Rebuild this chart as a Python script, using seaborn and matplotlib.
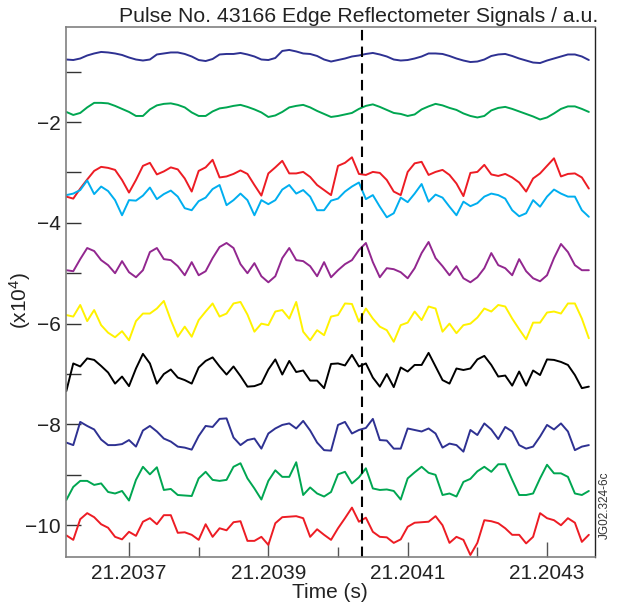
import numpy as np
import pandas as pd
import matplotlib
matplotlib.use("Agg")
import matplotlib.pyplot as plt
from matplotlib.ticker import FixedLocator, FixedFormatter
import seaborn as sns

# ---- data (values in units of 1e4, time in s) ----
time_s = np.round(21.20361 + np.arange(76) * 1e-5, 6)

navy_top = [-0.76, -0.77, -0.74, -0.68, -0.64, -0.61, -0.62, -0.64, -0.67, -0.72, -0.76, -0.78, -0.76, -0.66, -0.64, -0.62, -0.62, -0.65, -0.70, -0.77,
            -0.79, -0.75, -0.66, -0.65, -0.65, -0.63, -0.66, -0.70, -0.76, -0.77, -0.73, -0.59, -0.57, -0.60, -0.64, -0.65, -0.69, -0.76, -0.80,
            -0.77, -0.74, -0.70, -0.68, -0.65, -0.63, -0.66, -0.70, -0.76, -0.78, -0.77, -0.74, -0.70, -0.64, -0.64, -0.65, -0.69, -0.74, -0.78,
            -0.81, -0.80, -0.76, -0.69, -0.66, -0.65, -0.69, -0.74, -0.78, -0.82, -0.83, -0.78, -0.74, -0.70, -0.66, -0.66, -0.70, -0.77]
green_top = [-1.80, -1.86, -1.82, -1.71, -1.62, -1.62, -1.63, -1.68, -1.74, -1.80, -1.88, -1.88, -1.75, -1.67, -1.64, -1.63, -1.66, -1.71, -1.81, -1.88,
             -1.88, -1.79, -1.73, -1.71, -1.68, -1.66, -1.70, -1.75, -1.81, -1.90, -1.87, -1.80, -1.71, -1.68, -1.66, -1.71, -1.78, -1.84, -1.90,
             -1.88, -1.85, -1.82, -1.74, -1.68, -1.65, -1.70, -1.76, -1.82, -1.84, -1.88, -1.85, -1.75, -1.69, -1.64, -1.67, -1.72, -1.76, -1.83,
             -1.88, -1.91, -1.88, -1.77, -1.72, -1.70, -1.74, -1.79, -1.84, -1.89, -1.95, -1.91, -1.83, -1.74, -1.69, -1.69, -1.74, -1.80]
red_top = [-3.48, -3.52, -3.32, -3.14, -2.97, -2.89, -2.91, -2.95, -3.15, -3.40, -3.15, -2.87, -2.81, -3.04, -2.98, -2.90, -2.94, -3.12, -3.38, -2.97,
           -2.90, -2.75, -3.10, -3.08, -3.03, -2.96, -3.03, -3.25, -3.46, -3.02, -2.90, -2.77, -3.02, -3.02, -2.99, -3.09, -3.25, -3.35, -3.45,
           -2.87, -2.81, -2.70, -3.03, -3.05, -2.99, -3.01, -3.15, -3.38, -3.45, -2.99, -2.82, -2.79, -3.05, -2.99, -2.95, -3.05, -3.22, -3.47,
           -3.01, -2.99, -2.85, -3.04, -3.07, -3.03, -3.10, -3.20, -3.38, -3.12, -3.02, -2.87, -2.72, -3.08, -3.03, -3.02, -3.10, -3.32]
cyan = [-3.45, -3.42, -3.35, -3.16, -3.43, -3.28, -3.37, -3.55, -3.85, -3.55, -3.56, -3.46, -3.30, -3.53, -3.43, -3.36, -3.48, -3.71, -3.75, -3.57,
        -3.50, -3.33, -3.25, -3.65, -3.55, -3.42, -3.55, -3.85, -3.55, -3.63, -3.55, -3.34, -3.25, -3.42, -3.35, -3.48, -3.75, -3.75, -3.56,
        -3.52, -3.38, -3.28, -3.20, -3.53, -3.45, -3.68, -3.89, -3.81, -3.50, -3.59, -3.42, -3.23, -3.58, -3.44, -3.50, -3.68, -3.85, -3.58,
        -3.67, -3.61, -3.48, -3.42, -3.45, -3.52, -3.75, -3.87, -3.81, -3.55, -3.68, -3.48, -3.34, -3.42, -3.48, -3.48, -3.75, -3.88]
purple = [-4.94, -4.96, -4.72, -4.50, -4.56, -4.74, -4.84, -5.00, -4.76, -4.98, -5.08, -4.94, -4.58, -4.50, -4.72, -4.74, -4.86, -5.04, -4.78, -5.04,
          -4.96, -4.70, -4.48, -4.40, -4.50, -4.82, -5.00, -4.80, -5.06, -5.18, -5.06, -4.70, -4.50, -4.74, -4.76, -4.86, -5.06, -4.78, -5.08,
          -4.94, -4.82, -4.74, -4.54, -4.40, -4.78, -5.08, -4.90, -4.92, -4.98, -5.10, -4.90, -4.60, -4.38, -4.70, -4.86, -5.04, -4.86, -5.10,
          -5.18, -5.08, -4.90, -4.60, -4.84, -4.90, -5.04, -4.72, -4.96, -5.10, -5.16, -5.04, -4.70, -4.42, -4.58, -4.84, -4.94, -4.94]
yellow = [-5.83, -5.86, -5.63, -5.95, -5.73, -6.03, -6.18, -6.27, -6.15, -6.33, -5.95, -5.80, -5.80, -5.70, -5.55, -5.93, -6.26, -6.06, -6.26, -5.93,
          -5.76, -5.60, -5.86, -5.80, -5.60, -5.57, -5.82, -6.16, -6.00, -6.03, -5.76, -5.73, -5.90, -5.57, -6.16, -6.33, -6.13, -6.23, -5.86,
          -5.83, -5.60, -5.61, -5.96, -5.70, -5.90, -6.06, -6.13, -6.36, -6.03, -5.98, -5.76, -5.93, -5.66, -5.70, -6.16, -6.00, -6.19, -6.03,
          -6.00, -5.88, -5.70, -5.76, -5.63, -5.66, -5.90, -6.11, -6.31, -5.98, -5.98, -5.78, -5.76, -5.80, -5.60, -5.60, -5.90, -6.29]
black = [-7.34, -6.79, -6.85, -6.69, -6.72, -6.84, -6.97, -7.19, -7.05, -7.24, -6.89, -6.60, -6.79, -7.19, -7.00, -6.91, -7.07, -7.12, -7.19, -6.87,
         -6.74, -6.67, -6.85, -7.01, -6.85, -7.04, -7.25, -7.24, -7.19, -6.91, -6.71, -7.01, -6.74, -6.96, -6.93, -7.13, -7.13, -7.28, -6.80,
         -6.79, -6.83, -6.62, -6.85, -6.79, -7.07, -7.25, -7.00, -7.26, -6.87, -6.95, -6.82, -6.82, -6.58, -6.85, -7.12, -7.19, -6.89, -6.92,
         -6.89, -6.71, -6.64, -6.82, -7.05, -7.03, -7.23, -6.95, -7.23, -6.93, -7.02, -6.71, -6.72, -6.76, -6.82, -7.02, -7.28, -7.25]
navy_low = [-8.36, -8.41, -7.95, -8.03, -8.10, -8.30, -8.41, -8.41, -8.39, -8.31, -8.44, -8.12, -8.03, -8.14, -8.28, -8.34, -8.44, -8.46, -8.50, -8.23,
            -8.03, -8.05, -7.89, -7.88, -8.26, -8.41, -8.31, -8.28, -8.48, -8.18, -8.08, -8.01, -7.98, -8.08, -7.93, -8.12, -8.36, -8.51, -8.52,
            -8.01, -7.95, -8.18, -8.11, -8.07, -7.89, -8.31, -8.32, -8.48, -8.48, -8.08, -8.11, -8.14, -8.08, -8.18, -8.46, -8.38, -8.41, -8.54,
            -8.11, -8.21, -7.98, -8.10, -8.29, -8.05, -8.14, -8.41, -8.48, -8.44, -8.24, -8.01, -8.10, -7.98, -8.14, -8.51, -8.44, -8.41]
green_low = [-9.50, -9.24, -9.12, -9.12, -9.20, -9.17, -9.34, -9.37, -9.32, -9.51, -9.10, -8.84, -8.99, -8.85, -9.30, -9.28, -9.40, -9.41, -9.42, -9.07,
             -8.94, -9.10, -9.12, -9.10, -8.84, -8.77, -9.07, -9.27, -9.49, -9.12, -8.91, -9.04, -9.04, -8.75, -9.40, -9.25, -9.37, -9.43, -9.34,
             -8.99, -8.94, -9.17, -9.05, -8.87, -9.27, -9.30, -9.29, -9.32, -9.49, -9.07, -8.95, -8.84, -8.96, -9.00, -9.40, -9.37, -9.43, -9.14,
             -9.08, -8.93, -8.84, -8.94, -8.79, -8.79, -9.10, -9.40, -9.40, -9.37, -9.07, -8.80, -8.97, -8.97, -9.04, -9.37, -9.40, -9.32]
red_low = [-10.20, -10.29, -9.88, -9.76, -9.84, -9.98, -10.05, -10.23, -10.28, -10.13, -10.21, -9.93, -9.86, -9.98, -9.80, -9.80, -10.15, -10.14, -10.19, -10.29,
           -9.98, -10.23, -10.06, -10.10, -9.94, -9.92, -10.31, -10.31, -10.23, -10.39, -9.96, -9.84, -9.83, -9.82, -9.86, -10.23, -10.08, -10.19, -10.29,
           -10.06, -9.86, -9.65, -9.93, -9.85, -10.13, -10.23, -10.24, -10.35, -10.28, -10.03, -9.95, -9.94, -9.93, -9.82, -10.00, -10.35, -10.23, -10.29,
           -10.59, -10.35, -9.90, -9.92, -9.96, -10.06, -10.19, -10.19, -10.36, -10.23, -9.76, -9.86, -9.90, -10.00, -9.86, -9.95, -10.33, -10.19]

series_names = ["navy_top", "green_top", "red_top", "cyan", "purple",
                "yellow", "black", "navy_low", "green_low", "red_low"]
series_values = [navy_top, green_top, red_top, cyan, purple,
                 yellow, black, navy_low, green_low, red_low]
series_colors = ["#2e3192", "#00a651", "#ed1c24", "#00aeef", "#92278f",
                 "#fff200", "#000000", "#2e3192", "#00a651", "#ed1c24"]

x_ticks_major = [21.2037, 21.2039, 21.2041, 21.2043]
x_tick_labels = ["21.2037", "21.2039", "21.2041", "21.2043"]
x_ticks_minor = [21.2038, 21.2040, 21.2042]
y_ticks_major = [-2, -4, -6, -8, -10]
y_tick_labels = ["\u22122", "\u22124", "\u22126", "\u22128", "\u221210"]
y_ticks_minor = [-1, -3, -5, -7, -9]
marker_time = 21.2040344

# ---- build long table ----
frames = []
for name, vals in zip(series_names, series_values):
    frames.append(pd.DataFrame({"time": time_s, "value": vals, "series": name}))
df = pd.concat(frames, ignore_index=True)

sns.set_style("ticks")
plt.rcParams["font.family"] = ["Liberation Sans", "DejaVu Sans"]
plt.rcParams["mathtext.fontset"] = "custom"
plt.rcParams["mathtext.rm"] = "Liberation Sans"
plt.rcParams["mathtext.it"] = "Liberation Sans"

fig = plt.figure(figsize=(6.22, 6.08), dpi=100)
ax = fig.add_axes([66 / 622, 1 - 557 / 608, (595 - 66) / 622, (557 - 27) / 608])

sns.lineplot(data=df, x="time", y="value", hue="series", hue_order=series_names,
             palette=dict(zip(series_names, series_colors)), legend=False,
             estimator=None, sort=False, linewidth=1.4, ax=ax)

ax.axvline(marker_time, color="black", linestyle=(0, (5, 3)), linewidth=1.5)

ax.set_xlim(21.20360957, 21.20436886)
ax.set_ylim(-10.63, -0.115)

ax.xaxis.set_major_locator(FixedLocator(x_ticks_major))
ax.xaxis.set_major_formatter(FixedFormatter(x_tick_labels))
ax.xaxis.set_minor_locator(FixedLocator(x_ticks_minor))
ax.yaxis.set_major_locator(FixedLocator(y_ticks_major))
ax.yaxis.set_major_formatter(FixedFormatter(y_tick_labels))
ax.yaxis.set_minor_locator(FixedLocator(y_ticks_minor))

ax.tick_params(axis="x", which="both", bottom=True, top=False)
ax.tick_params(axis="y", which="both", left=True, right=False)
ax.tick_params(axis="x", which="major", direction="in", length=11, width=1.0,
               color="#555555", labelsize=15, pad=5, labelcolor="#222222")
ax.tick_params(axis="x", which="minor", direction="in", length=7, width=1.0, color="#555555")
ax.tick_params(axis="y", which="both", direction="in", length=11, width=1.0,
               color="#333333", labelsize=15, pad=4, labelcolor="#222222")

ax.set_xlabel("")
ax.set_ylabel("")

for side in ["left", "bottom", "top"]:
    ax.spines[side].set_visible(True)
    ax.spines[side].set_color("#808080")
    ax.spines[side].set_linewidth(1.2)
ax.spines["right"].set_visible(True)
ax.spines["right"].set_color("#222222")
ax.spines["right"].set_linewidth(1.0)

fig.text(598 / 622, 1 - 17 / 608, "Pulse No. 43166 Edge Reflectometer Signals / a.u.",
         ha="right", va="center", fontsize=15.3, color="#222222")
fig.text(330 / 622, 1 - 593 / 608, "Time (s)", ha="center", va="center",
         fontsize=15, color="#222222")
fig.text(20 / 622, 1 - 300 / 608, r"(x10$^{4}$)", ha="center", va="center",
         rotation=90, fontsize=15, color="#222222")
fig.text(605 / 622, 1 - 505 / 608, "JG02.324-6c", ha="center", va="center",
         rotation=90, fontsize=8.5, color="#333333")

fig.savefig("out.png", dpi=100)
